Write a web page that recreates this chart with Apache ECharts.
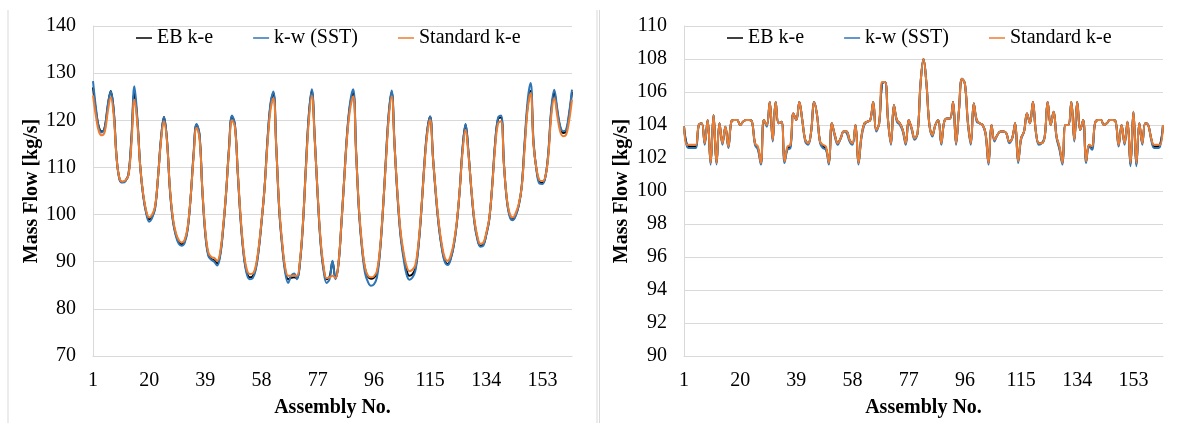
<!DOCTYPE html>
<html>
<head>
<meta charset="utf-8">
<script src="https://cdn.jsdelivr.net/npm/echarts@6/dist/echarts.min.js"></script>
<style>
  html, body { margin: 0; padding: 0; background: #fff; }
  #massFlow { width: 1182px; height: 423px; }
</style>
</head>
<body>
<div id="massFlow"></div>
<script>
// assembly numbers 1..163
const assemblies = [];
for (let k = 1; k <= 163; k++) assemblies.push(String(k));

const seriesNames = ['EB k-e', 'k-w (SST)', 'Standard k-e'];
const lineColors = ['#000000', '#2E75B6', '#ED7D31'];

// left panel (70 - 140)
const leftEB = [
  127.0,122.0,118.5,117.6,118.6,123.0,126.2,122.0,112.0,107.5,
  106.9,107.2,108.5,116.0,125.8,120.0,110.0,104.0,100.5,99.0,
  99.6,101.5,108.0,116.0,120.7,116.0,105.5,99.0,95.8,94.2,
  93.7,94.3,97.0,103.5,112.5,119.1,117.0,105.0,96.0,91.5,
  90.6,90.3,89.6,91.5,97.0,104.5,114.0,120.8,119.0,108.5,
  98.5,91.5,87.8,86.7,86.9,88.5,92.5,98.5,105.5,115.5,
  123.0,125.8,114.0,101.0,93.5,88.3,86.3,86.6,86.7,86.5,
  90.0,98.0,110.0,121.0,126.2,116.0,104.0,94.0,88.5,86.3,
  86.8,90.0,86.5,89.5,98.0,108.0,117.5,123.5,125.8,113.0,
  100.5,93.0,88.5,86.8,86.4,86.6,87.5,92.0,100.5,111.0,
  121.0,126.0,114.5,104.0,96.0,91.5,88.3,87.0,87.3,88.5,
  93.0,100.5,110.0,117.5,120.8,112.0,104.0,97.5,93.0,90.2,
  89.5,90.8,93.5,98.0,105.0,114.0,119.1,113.0,105.0,98.5,
  95.0,93.4,93.6,95.8,99.0,106.0,115.0,120.3,120.6,110.5,
  103.0,99.7,99.0,100.0,102.0,106.0,115.0,123.0,126.2,115.0,
  109.5,106.9,106.7,108.0,113.0,122.0,125.8,122.0,118.5,117.3,
  117.6,121.0,126.0
];
const leftKW = [
  128.3,122.6,118.3,117.4,118.6,123.3,126.1,122.2,112.0,107.3,
  106.8,107.1,108.6,116.5,127.2,120.5,110.0,103.8,100.2,98.5,
  99.3,101.3,108.0,116.3,120.7,116.0,105.3,98.7,95.5,93.8,
  93.4,94.0,96.7,103.4,112.7,119.2,117.2,104.8,95.6,91.2,
  90.4,90.0,89.2,91.2,96.7,104.4,114.2,121.0,119.1,108.3,
  98.1,91.1,87.4,86.3,86.5,88.2,92.2,98.3,105.5,115.8,
  123.5,126.1,114.2,100.7,93.1,87.7,85.5,87.0,87.5,86.3,
  89.7,97.8,110.2,121.3,126.6,116.3,103.8,93.6,88.0,85.5,
  86.3,90.2,86.3,89.2,97.8,108.0,117.8,124.0,126.6,113.3,
  100.2,92.5,87.6,85.7,84.9,85.2,86.6,91.5,100.2,111.3,
  121.4,126.3,114.8,103.6,95.5,90.8,87.4,86.2,86.6,88.0,
  92.6,100.3,110.2,117.7,120.8,112.0,103.7,97.1,92.7,89.9,
  89.3,90.6,93.3,97.8,105.0,114.2,119.2,113.1,104.8,98.2,
  94.7,93.2,93.4,95.6,98.8,106.0,115.2,120.6,121.0,110.6,
  102.8,99.4,98.8,99.8,101.9,106.1,115.6,124.2,127.9,115.5,
  109.4,106.6,106.5,108.0,113.3,122.6,126.5,122.5,118.8,117.7,
  118.0,121.5,126.5
];
const leftSTD = [
  125.3,120.8,117.6,116.8,117.6,121.8,124.9,121.0,111.8,107.6,
  107.0,107.3,108.3,115.0,124.4,119.3,110.0,104.3,100.8,99.4,
  100.0,101.8,108.0,115.5,119.8,115.6,105.8,99.4,96.2,94.6,
  94.1,94.7,97.3,103.6,112.0,118.4,116.3,105.2,96.5,92.0,
  91.0,90.8,90.2,92.0,97.4,104.6,113.5,120.0,118.5,108.7,
  99.0,92.0,88.4,87.4,87.5,89.0,92.9,98.7,105.4,114.8,
  122.0,124.7,113.8,101.5,94.0,88.8,87.0,87.0,87.0,87.0,
  90.3,98.2,109.6,120.0,125.2,115.6,104.3,94.5,89.0,86.5,
  86.7,87.0,86.5,89.6,98.0,107.8,117.0,122.5,125.1,112.7,
  101.0,93.5,88.8,87.0,86.7,86.9,88.0,92.4,100.6,110.5,
  120.2,125.1,114.3,104.4,96.6,92.2,89.2,88.0,88.3,89.3,
  93.6,100.8,109.6,116.8,120.1,111.8,104.4,98.0,93.6,90.8,
  90.2,91.4,94.0,98.3,105.0,113.3,118.0,112.5,105.3,98.9,
  95.4,93.8,94.0,96.1,99.2,105.8,114.3,119.3,119.8,110.3,
  103.3,100.1,99.4,100.4,102.3,105.8,114.2,122.3,125.8,114.6,
  109.7,107.3,107.1,108.1,112.5,121.0,124.7,121.0,117.6,116.6,
  116.9,119.8,124.4
];

// right panel (90 - 110)
const rightEB = [
  103.9,102.8,102.7,102.7,102.7,104.0,104.1,102.9,104.3,101.7,
  104.6,101.7,104.1,102.9,103.9,102.7,104.2,104.3,104.3,104.0,
  104.2,104.3,104.3,104.2,102.9,102.6,101.7,104.3,104.0,105.4,
  103.1,105.4,104.1,104.2,101.8,102.6,102.7,104.7,104.3,105.4,
  104.3,103.1,102.9,103.6,105.4,104.6,103.0,102.7,102.6,101.7,
  104.1,103.4,102.9,103.2,103.6,103.6,103.1,102.9,104.0,101.7,
  103.3,104.1,104.2,104.3,105.4,103.7,104.1,106.5,106.6,104.3,
  102.9,105.2,104.3,104.1,103.7,102.9,104.3,103.8,103.2,103.5,
  106.5,108.0,106.5,104.0,103.4,104.0,104.3,102.9,104.2,104.4,
  104.4,105.4,102.9,104.9,106.8,106.5,104.2,102.9,105.3,104.3,
  104.1,104.0,103.5,101.7,104.0,103.1,103.4,103.6,103.6,103.5,
  103.0,103.2,104.1,101.8,103.2,103.6,104.7,104.1,105.4,103.6,
  102.9,102.9,103.3,105.4,104.0,104.8,103.3,102.6,101.7,104.0,
  104.0,105.4,103.1,105.4,103.7,104.3,101.8,102.8,102.6,104.1,
  104.3,104.3,104.0,104.1,104.3,104.3,104.2,102.8,104.0,102.9,
  104.2,101.6,104.8,101.6,104.1,102.9,104.1,104.0,103.2,102.7,
  102.7,102.8,104.0
];
const rightKW = [
  103.9,102.7,102.6,102.6,102.6,104.0,104.1,102.8,104.3,101.6,
  104.6,101.6,104.1,102.8,103.9,102.6,104.2,104.3,104.3,104.0,
  104.2,104.3,104.3,104.2,102.8,102.5,101.6,104.3,103.9,105.4,
  103.0,105.4,104.1,104.2,101.7,102.5,102.6,104.7,104.3,105.4,
  104.3,103.0,102.8,103.6,105.4,104.6,102.9,102.6,102.5,101.6,
  104.1,103.3,102.8,103.2,103.6,103.5,103.0,102.8,104.0,101.6,
  103.2,104.0,104.2,104.3,105.4,103.6,104.1,106.5,106.6,104.3,
  102.8,105.2,104.2,104.0,103.6,102.8,104.3,103.7,103.1,103.5,
  106.5,108.0,106.5,104.0,103.3,104.0,104.3,102.8,104.2,104.4,
  104.4,105.4,102.8,104.9,106.8,106.5,104.1,102.8,105.3,104.2,
  104.1,104.0,103.4,101.6,104.0,103.0,103.4,103.6,103.6,103.5,
  102.9,103.2,104.1,101.7,103.1,103.6,104.7,104.1,105.4,103.6,
  102.8,102.9,103.3,105.4,104.0,104.8,103.2,102.5,101.6,104.0,
  104.0,105.4,103.0,105.4,103.7,104.3,101.7,102.7,102.5,104.1,
  104.3,104.3,104.0,104.1,104.3,104.3,104.2,102.7,104.0,102.8,
  104.2,101.5,104.8,101.5,104.1,102.8,104.1,104.0,103.1,102.6,
  102.6,102.7,104.0
];
const rightSTD = [
  103.9,102.8,102.8,102.8,102.8,104.0,104.1,102.9,104.3,101.7,
  104.6,101.7,104.1,102.9,103.9,102.7,104.2,104.3,104.3,104.0,
  104.2,104.3,104.3,104.2,102.9,102.7,101.7,104.3,104.0,105.4,
  103.1,105.4,104.1,104.2,101.8,102.7,102.8,104.7,104.3,105.4,
  104.3,103.1,102.9,103.6,105.4,104.6,103.0,102.8,102.7,101.7,
  104.1,103.4,102.9,103.2,103.6,103.6,103.1,102.9,104.0,101.7,
  103.3,104.1,104.2,104.3,105.4,103.7,104.1,106.6,106.6,104.3,
  102.9,105.2,104.3,104.1,103.7,102.9,104.3,103.8,103.2,103.5,
  106.5,108.0,106.5,104.0,103.4,104.0,104.3,102.9,104.2,104.4,
  104.4,105.4,102.9,104.9,106.8,106.5,104.2,102.9,105.3,104.3,
  104.1,104.0,103.5,101.7,104.0,103.1,103.4,103.6,103.6,103.5,
  103.0,103.2,104.1,101.8,103.2,103.6,104.7,104.1,105.4,103.6,
  102.9,102.9,103.3,105.4,104.0,104.8,103.3,102.7,101.7,104.0,
  104.0,105.4,103.1,105.4,103.7,104.3,101.8,102.8,102.7,104.1,
  104.3,104.3,104.0,104.1,104.3,104.3,104.2,102.8,104.0,102.9,
  104.2,101.7,104.8,101.7,104.1,102.9,104.1,104.0,103.2,102.8,
  102.8,102.8,104.0
];

const fontFamily = 'Liberation Serif';
const gridColor = '#d9d9d9';

function makeXAxis(gridIndex) {
  return {
    gridIndex: gridIndex,
    type: 'category',
    data: assemblies,
    boundaryGap: false,
    axisTick: { show: false },
    axisLine: { lineStyle: { color: gridColor, width: 1 } },
    axisLabel: { interval: 18, color: '#000', fontSize: 20, fontFamily: fontFamily, margin: 15 },
    splitLine: { show: false },
    name: 'Assembly No.',
    nameLocation: 'middle',
    nameGap: 42,
    nameTextStyle: { color: '#000', fontSize: 20, fontWeight: 'bold', fontFamily: fontFamily }
  };
}

function makeYAxis(gridIndex, min, max, step, gap) {
  return {
    gridIndex: gridIndex,
    type: 'value',
    min: min,
    max: max,
    interval: step,
    axisTick: { show: false },
    axisLine: { show: true, lineStyle: { color: gridColor, width: 1 } },
    splitLine: { lineStyle: { color: gridColor, width: 1 } },
    axisLabel: { color: '#000', fontSize: 20, fontFamily: fontFamily, margin: 17 },
    name: 'Mass Flow [kg/s]',
    nameLocation: 'middle',
    nameGap: gap,
    nameTextStyle: { color: '#000', fontSize: 20, fontWeight: 'bold', fontFamily: fontFamily }
  };
}

function makeSeries(idx, values, i) {
  return {
    name: seriesNames[i],
    type: 'line',
    xAxisIndex: idx,
    yAxisIndex: idx,
    data: values,
    symbol: 'none',
    smooth: 0.4,
    lineStyle: { color: lineColors[i], width: 2 },
    itemStyle: { color: lineColors[i] }
  };
}

function makeLegend(left) {
  return {
    top: 28,
    left: left,
    padding: 0,
    icon: 'rect',
    itemWidth: 16,
    itemHeight: 1.5,
    itemGap: 40,
    data: seriesNames,
    selectedMode: false,
    textStyle: { color: '#000', fontSize: 20, fontFamily: fontFamily }
  };
}

let chart = echarts.init(document.getElementById('massFlow'));
chart.setOption({
  animation: false,
  backgroundColor: '#fff',
  graphic: [
    { type: 'line', shape: { x1: 8, y1: 10, x2: 8, y2: 423 }, style: { stroke: gridColor, lineWidth: 1 } },
    { type: 'line', shape: { x1: 597, y1: 10, x2: 597, y2: 423 }, style: { stroke: gridColor, lineWidth: 1 } },
    { type: 'line', shape: { x1: 599.5, y1: 10, x2: 599.5, y2: 423 }, style: { stroke: gridColor, lineWidth: 1 } }
  ],
  legend: [makeLegend(136), makeLegend(727)],
  grid: [
    { left: 93, right: 610, top: 26, bottom: 66 },
    { left: 684, right: 19, top: 26, bottom: 66 }
  ],
  xAxis: [makeXAxis(0), makeXAxis(1)],
  yAxis: [makeYAxis(0, 70, 140, 10, 50), makeYAxis(1, 90, 110, 2, 52)],
  series: [
    makeSeries(0, leftEB, 0),
    makeSeries(0, leftKW, 1),
    makeSeries(0, leftSTD, 2),
    makeSeries(1, rightEB, 0),
    makeSeries(1, rightKW, 1),
    makeSeries(1, rightSTD, 2)
  ]
});
window.addEventListener('resize', function () {
  chart.resize();
});
</script>
</body>
</html>
